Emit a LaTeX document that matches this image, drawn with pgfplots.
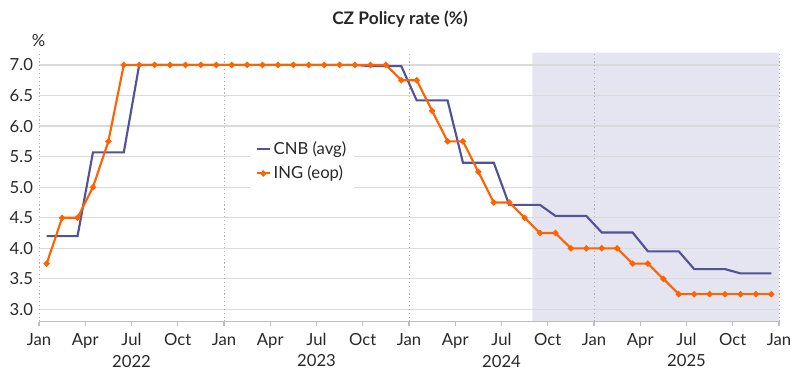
\documentclass[border=0pt]{standalone}
\usepackage{fontspec}
\setmainfont{Lato}
\usepackage{pgfplots}
\pgfplotsset{compat=1.18}
\definecolor{cnb}{RGB}{82,81,153}
\definecolor{ing}{RGB}{255,98,0}
\definecolor{shade}{RGB}{229,229,241}
\definecolor{gridc}{RGB}{218,218,218}
\definecolor{txt}{RGB}{40,40,40}
\definecolor{axc}{RGB}{190,190,190}

\pgfplotstableread{
x cnb
0.5 4.20
1.5 4.20
2.5 4.20
3.5 5.57
4.5 5.57
5.5 5.57
6.5 7.00
7.5 7.00
8.5 7.00
9.5 7.00
10.5 7.00
11.5 7.00
12.5 7.00
13.5 7.00
14.5 7.00
15.5 7.00
16.5 7.00
17.5 7.00
18.5 7.00
19.5 7.00
20.5 7.00
21.5 6.98
22.5 6.98
23.5 6.98
24.5 6.42
25.5 6.42
26.5 6.42
27.5 5.40
28.5 5.40
29.5 5.40
30.5 4.71
31.5 4.71
32.5 4.71
33.5 4.53
34.5 4.53
35.5 4.53
36.5 4.26
37.5 4.26
38.5 4.26
39.5 3.95
40.5 3.95
41.5 3.95
42.5 3.66
43.5 3.66
44.5 3.66
45.5 3.59
46.5 3.59
47.5 3.59
}\cnbdata

\pgfplotstableread{
x ing
0.5 3.75
1.5 4.50
2.5 4.50
3.5 5.00
4.5 5.75
5.5 7.00
6.5 7.00
7.5 7.00
8.5 7.00
9.5 7.00
10.5 7.00
11.5 7.00
12.5 7.00
13.5 7.00
14.5 7.00
15.5 7.00
16.5 7.00
17.5 7.00
18.5 7.00
19.5 7.00
20.5 7.00
21.5 7.00
22.5 7.00
23.5 6.75
24.5 6.75
25.5 6.25
26.5 5.75
27.5 5.75
28.5 5.25
29.5 4.75
30.5 4.75
31.5 4.50
32.5 4.25
33.5 4.25
34.5 4.00
35.5 4.00
36.5 4.00
37.5 4.00
38.5 3.75
39.5 3.75
40.5 3.50
41.5 3.25
42.5 3.25
43.5 3.25
44.5 3.25
45.5 3.25
46.5 3.25
47.5 3.25
}\ingdata

\pgfplotstableread{
x y
32 2.8
48 2.8
48 7.2
32 7.2
32 2.8
}\shadedata

\begin{document}
\begin{tikzpicture}
\node[font=\fontsize{13}{15}\selectfont\bfseries, text=txt] at (300pt,274pt) {CZ Policy rate (\%)};
\begin{axis}[
  set layers,
  at={(29.25pt,46.725pt)}, anchor=south west,
  scale only axis, width=555pt, height=201.75pt,
  xmin=0, xmax=48, ymin=2.8, ymax=7.2,
  axis x line*=bottom, axis y line*=left,
  x axis line style={axc, line width=1pt, -},
  y axis line style={draw=none},
  xtick={0,3,...,48},
  xticklabels={Jan,Apr,Jul,Oct,Jan,Apr,Jul,Oct,Jan,Apr,Jul,Oct,Jan,Apr,Jul,Oct,Jan},
  xtick align=outside,
  xtick style={axc, line width=0.8pt},
  major tick length=3pt,
  ytick={3,3.5,...,7},
  ytick style={draw=none},
  yticklabel style={/pgf/number format/fixed, /pgf/number format/fixed zerofill, /pgf/number format/precision=1},
  /pgf/number format/assume math mode=true,
  ymajorgrids, xmajorgrids=false,
  major grid style={gridc, line width=0.9pt},
  extra x ticks={0,12,24,36,48},
  extra x tick labels={},
  extra x tick style={xmajorgrids=true, major grid style={gray!60, dotted, line width=0.7pt}},
  tick label style={font=\fontsize{12.5}{15}\selectfont, text=txt},
  xticklabel style={yshift=-2pt},
  yticklabel style={xshift=-1pt},
  legend style={at={(0.285,0.695)}, anchor=north west, draw=none, fill=white,
    font=\fontsize{12.5}{15}\selectfont, text=txt, row sep=3pt, inner xsep=4pt, inner ysep=3pt},
  legend cell align=left,
  legend image code/.code={\draw[mark repeat=2,mark phase=2,#1] plot coordinates {(0pt,0pt) (5pt,0pt) (10pt,0pt)};},
  clip=false,
]
\addplot[on layer=axis background, fill=shade, draw=none, forget plot] table[x=x, y=y] {\shadedata};
\addplot[cnb, line width=1.6pt, no marks] table[x=x, y=cnb] {\cnbdata};
\addlegendentry{CNB (avg)}
\addplot[ing, line width=1.6pt, mark=*, mark size=1.4pt] table[x=x, y=ing] {\ingdata};
\addlegendentry{ING (eop)}
\node[font=\fontsize{12.5}{15}\selectfont, text=txt, yshift=-29.5pt] at (axis cs:6,2.8) {2022};
\node[font=\fontsize{12.5}{15}\selectfont, text=txt, yshift=-29.5pt] at (axis cs:18,2.8) {2023};
\node[font=\fontsize{12.5}{15}\selectfont, text=txt, yshift=-29.5pt] at (axis cs:30,2.8) {2024};
\node[font=\fontsize{12.5}{15}\selectfont, text=txt, yshift=-29.5pt] at (axis cs:42,2.8) {2025};
\node[font=\fontsize{12.5}{15}\selectfont, text=txt, xshift=-0.4pt, yshift=8.8pt] at (rel axis cs:0,1) {\%};
\end{axis}
\path (0,0) rectangle (600pt,288pt);
\end{tikzpicture}
\end{document}
